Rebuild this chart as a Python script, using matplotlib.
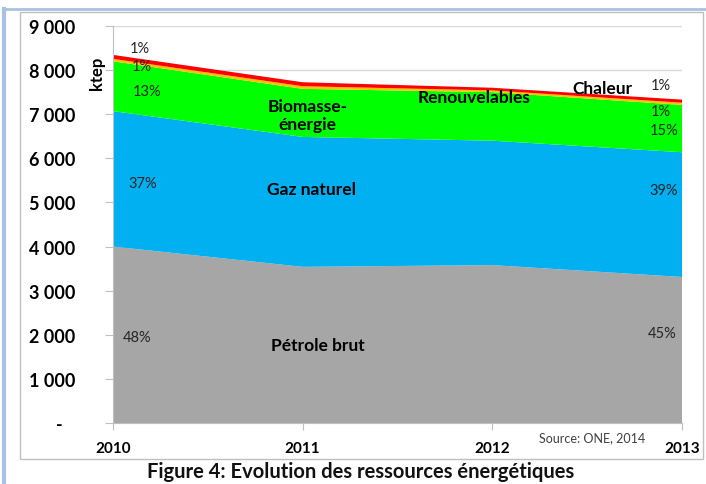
import matplotlib.pyplot as plt
from matplotlib.patches import Rectangle
from matplotlib.lines import Line2D

years = [2010, 2011, 2012, 2013]
petrole = [4000, 3540, 3580, 3310]
gaz = [3070, 2945, 2820, 2828]
biomasse = [1130, 1090, 1100, 1073]
renouvelables = [55, 60, 40, 50]
chaleur = [90, 90, 60, 70]

series_colors = ["#A6A6A6", "#00B0F0", "#00FF00", "#FFC000", "#FF0000"]
yticks = [0, 1000, 2000, 3000, 4000, 5000, 6000, 7000, 8000, 9000]
ytick_labels = ["-   ", "1 000", "2 000", "3 000", "4 000", "5 000",
                "6 000", "7 000", "8 000", "9 000"]

plt.rcParams["font.family"] = ["Lato", "DejaVu Sans"]

fig = plt.figure(figsize=(7.06, 4.85), dpi=100)
W, H = 706, 485

# outer frame (light blue) and chart box (gray)
fig.add_artist(Line2D([4 / W, 4 / W], [0, 1 - 10 / H], color="#A9C1E3", lw=3,
                      transform=fig.transFigure))
fig.add_artist(Line2D([4 / W, 1], [1 - 10 / H, 1 - 10 / H], color="#A9C1E3", lw=2,
                      transform=fig.transFigure))
fig.add_artist(Rectangle((20 / W, 1 - 460 / H), (703 - 20) / W, (460 - 13) / H,
                         transform=fig.transFigure, fill=False, ec="#BFBFBF", lw=1))

ax = fig.add_axes([113 / W, 1 - 424 / H, (682 - 113) / W, (424 - 27) / H])
ax.stackplot(years, petrole, gaz, biomasse, renouvelables, chaleur,
             colors=series_colors, lw=0)

ax.set_xlim(2010, 2013)
ax.set_ylim(0, 9000)
ax.set_xticks(years)
ax.set_xticklabels([str(y) for y in years], fontsize=11, fontweight="bold")
ax.set_yticks(yticks)
ax.set_yticklabels(ytick_labels, fontsize=13, fontweight="bold")
ax.grid(axis="y", color="#D9D9D9", lw=1)
ax.set_axisbelow(True)
for s in ["top", "right"]:
    ax.spines[s].set_visible(False)
for s in ["left", "bottom"]:
    ax.spines[s].set_color("#BFBFBF")
ax.tick_params(axis="y", length=6, color="#BFBFBF", pad=21)
ax.tick_params(axis="x", length=5, color="#BFBFBF", pad=8)

ax.text(2009.918, 7940, "ktep", rotation=90, fontsize=12, fontweight="bold",
        ha="center", va="center")

pct = dict(fontsize=10.5, color="#262626", ha="center", va="center")
ax.text(2010.142, 8503, "1%", **pct)
ax.text(2010.151, 8102, "1%", **pct)
ax.text(2010.177, 7535, "13%", **pct)
ax.text(2010.156, 5435, "37%", **pct)
ax.text(2010.125, 1957, "48%", **pct)
ax.text(2012.888, 7671, "1%", **pct)
ax.text(2012.888, 7082, "1%", **pct)
ax.text(2012.905, 6644, "15%", **pct)
ax.text(2012.905, 5283, "39%", **pct)
ax.text(2012.895, 2041, "45%", **pct)

lab = dict(fontsize=12.5, fontweight="bold", ha="center", va="center")
ax.text(2011.026, 6984, "Biomasse-\nénergie", linespacing=1.15, **lab)
ax.text(2011.046, 5306, "Gaz naturel", **lab)
ax.text(2011.08, 1769, "Pétrole brut", **lab)
ax.text(2011.905, 7392, "Renouvelables", **lab)
ax.text(2012.579, 7596, "Chaleur", **lab)

ax.text(2012.526, -320, "Source: ONE, 2014", fontsize=9, color="#404040",
        ha="center", va="center", clip_on=False)

fig.text(361 / W, 1 - 472 / H, "Figure 4: Evolution des ressources énergétiques",
         fontsize=14.5, fontweight="bold", color="#111111", ha="center", va="center")

fig.savefig("out.png", dpi=100)
